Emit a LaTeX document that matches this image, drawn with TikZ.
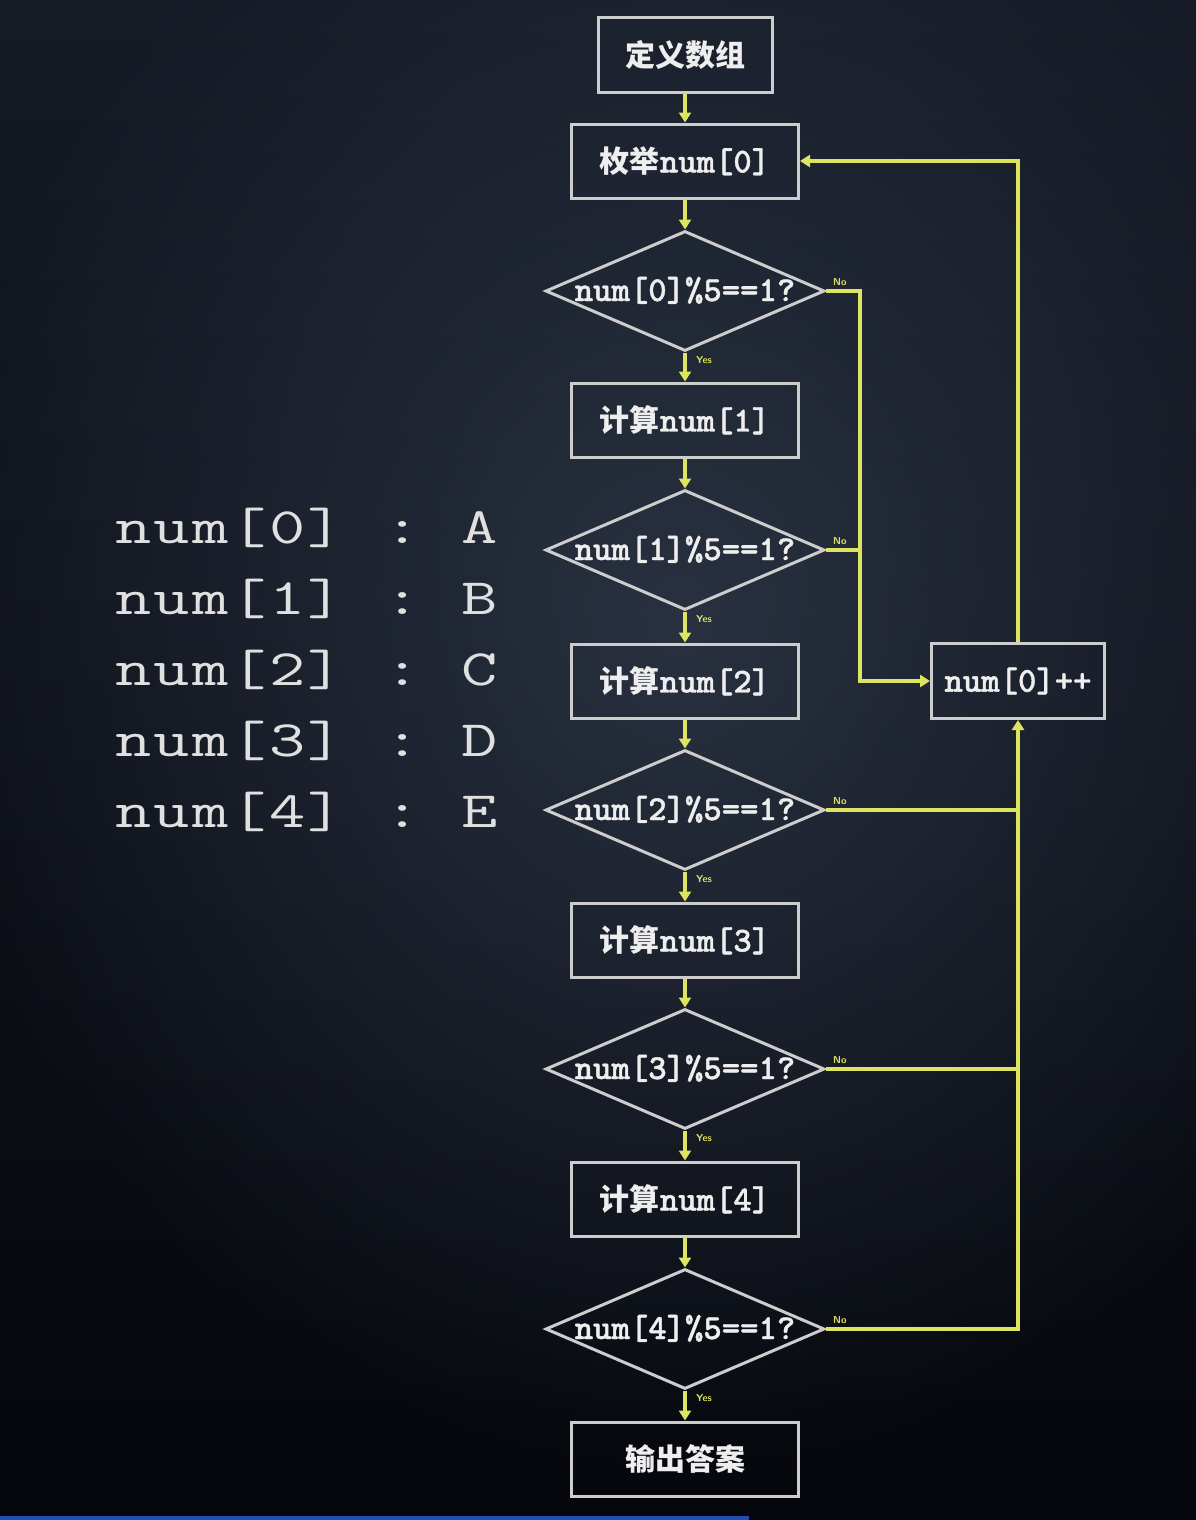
\documentclass[tikz,border=0pt]{standalone}
\usepackage{fontspec}
\usepackage{graphicx}
\newfontfamily\cjk{Noto Sans CJK SC}
\newfontfamily\mb{lmmonolt10-bold}[Extension=.otf, FakeBold=1.2]
\usetikzlibrary{shapes.geometric,arrows.meta,calc,fadings}
\tikzfading[name=softglow, inner color=transparent!0, outer color=transparent!100]
\definecolor{bgtop}{RGB}{21,26,37}
\definecolor{bgmid}{RGB}{28,35,49}
\definecolor{bgbot}{RGB}{5,7,12}
\definecolor{glow}{RGB}{48,57,74}
\definecolor{ylw}{RGB}{220,228,96}
\definecolor{edge}{RGB}{205,205,205}
\definecolor{txt}{RGB}{238,238,238}
\definecolor{ltxt}{RGB}{224,224,224}
\definecolor{bar}{RGB}{31,79,181}
\newcommand\cn[1]{{\cjk\bfseries\fontsize{30}{30}\selectfont #1}}
\newcommand\mn[1]{{\mb\fontsize{35}{35}\selectfont #1}}
\newcommand\dtext[1]{\makebox[0pt]{\raisebox{-10pt}[0pt][0pt]{\mn{#1}}}}
\newcommand\mc[1]{\makebox[38.5pt]{\scalebox{1.38}[1]{#1}}}
\newcommand\lrow[2]{\mc{n}\mc{u}\mc{m}\mc{[}\mc{#1}\mc{]}\mc{}\mc{:}\mc{}\mc{#2}}
\tikzset{
  box/.style={draw=edge, line width=3pt, minimum width=227pt, minimum height=74pt, inner sep=0pt, text=txt},
  dia/.style={diamond, draw=edge, line width=3pt, minimum width=279pt, minimum height=120pt, inner sep=0pt, text=txt},
  link/.style={draw=ylw, line width=3.3pt},
  flow/.style={link, -{Triangle[width=12pt,length=10pt]}},
  yn/.style={text=ylw, font=\sffamily\bfseries\fontsize{10}{10}\selectfont, inner sep=0pt, anchor=west},
  lrowst/.style={text=ltxt, font=\ttfamily\fontsize{51}{51}\selectfont, inner sep=0pt, anchor=base west}
}
\begin{document}
\begin{tikzpicture}[x=1pt,y=-1pt]
\useasboundingbox (0,0) rectangle (1196,1520);
\shade[top color=bgtop, middle color=bgmid, bottom color=bgbot] (0,0) rectangle (1196,1520);
\fill[glow, path fading=softglow, fill opacity=0.8] (680,620) ellipse (760 and 860);
\fill[bar] (0,1516) rectangle (749,1520);

% left legend
\node[lrowst] (l0) at (114,543) {\lrow{0}{A}};
\node[lrowst] (l1) at (114,614) {\lrow{1}{B}};
\node[lrowst] (l2) at (114,685) {\lrow{2}{C}};
\node[lrowst] (l3) at (114,756) {\lrow{3}{D}};
\node[lrowst] (l4) at (114,827) {\lrow{4}{E}};

% flowchart nodes
\node[box, minimum width=174pt, minimum height=75pt] (def) at (685,55) {\cn{定义数组}};
\node[box] (enum) at (685,161) {\cn{枚举}\mn{num[0]}};
\node[dia] (d0) at (685,291) {\dtext{num[0]\%5==1?}};
\node[box] (c1) at (685,420) {\cn{计算}\mn{num[1]}};
\node[dia] (d1) at (685,550) {\dtext{num[1]\%5==1?}};
\node[box] (c2) at (685,681) {\cn{计算}\mn{num[2]}};
\node[dia] (d2) at (685,810) {\dtext{num[2]\%5==1?}};
\node[box] (c3) at (685,940) {\cn{计算}\mn{num[3]}};
\node[dia] (d3) at (685,1069) {\dtext{num[3]\%5==1?}};
\node[box] (c4) at (685,1199) {\cn{计算}\mn{num[4]}};
\node[dia] (d4) at (685,1329) {\dtext{num[4]\%5==1?}};
\node[box] (out) at (685,1459) {\cn{输出答案}};
\node[box, minimum width=173pt, minimum height=75pt] (inc) at (1018,681) {\mn{num[0]++}};
\coordinate (bus) at (860,681);

% main flow
\draw[flow] (def) -- (enum);
\draw[flow] (enum) -- (d0);
\draw[flow] (d0) -- (c1);
\draw[flow] (c1) -- (d1);
\draw[flow] (d1) -- (c2);
\draw[flow] (c2) -- (d2);
\draw[flow] (d2) -- (c3);
\draw[flow] (c3) -- (d3);
\draw[flow] (d3) -- (c4);
\draw[flow] (c4) -- (d4);
\draw[flow] (d4) -- (out);

% no branches
\draw[flow] (d0.east) -- (d0.east -| bus) |- (inc.west);
\draw[link] (d1.east) -- (d1.east -| bus);
\draw[link] (d2.east) -- (d2.east -| inc.south);
\draw[link] (d3.east) -- (d3.east -| inc.south);
\draw[flow] (d4.east) -| (inc.south);
\draw[flow] (inc.north) |- (enum.east);

% yes / no labels
\foreach \d in {d0,d1,d2,d3,d4}{
  \node[yn] (yes-\d) at ($(\d.south)+(11,8)$) {Yes};
  \node[yn] (no-\d) at ($(\d.east)+(7,-9)$) {No};
}
\end{tikzpicture}
\end{document}
